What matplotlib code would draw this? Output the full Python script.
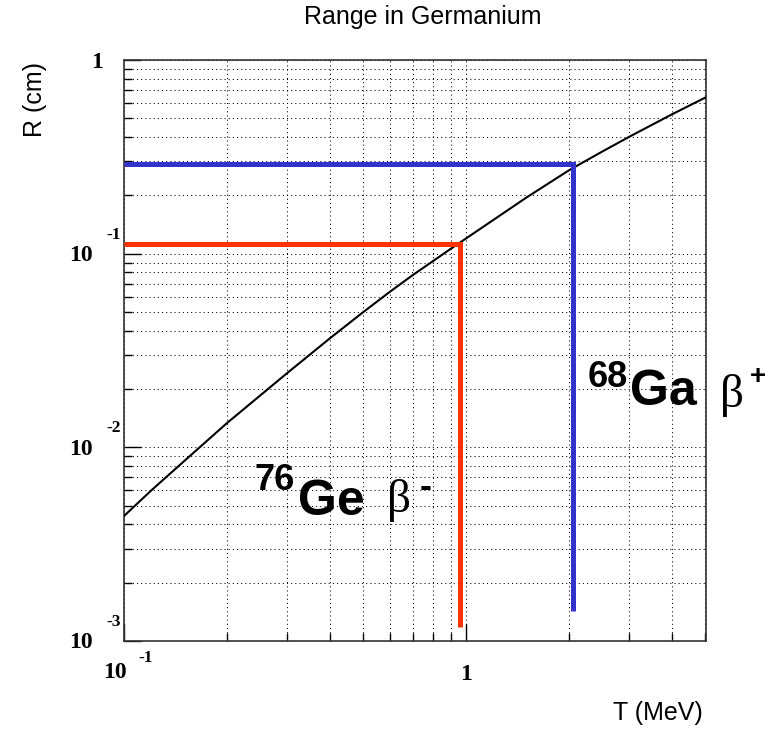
import matplotlib
matplotlib.use('Agg')
import matplotlib.pyplot as plt
import matplotlib.transforms as mtransforms
from matplotlib.ticker import LogLocator, NullFormatter, FixedLocator
import numpy as np

# Parcours des électrons dans le germanium
energie_mev = [0.1, 0.12, 0.15, 0.2, 0.3, 0.4, 0.5, 0.6, 0.7, 0.8, 0.9, 1.0,
               1.5, 2.0, 2.5, 3.0, 4.0, 5.0]
portee_cm = [0.00442, 0.00598, 0.0085, 0.01335, 0.0242, 0.0366, 0.0499, 0.0638, 0.0778,
             0.0916, 0.1058, 0.120, 0.195, 0.270, 0.337, 0.402, 0.525, 0.64]

# Repères des deux sources : énergie max, portée, bas du trait vertical
ge76 = (0.96, 0.112, 0.00118)
ga68 = (2.05, 0.29, 0.00143)

x_min, x_max = 0.1, 5.02
y_min, y_max = 1e-3, 1.0
x_ticks = [0.1, 1]
x_exposants = ['-1', None]
y_ticks = [1e-3, 1e-2, 1e-1, 1]
y_exposants = ['-3', '-2', '-1', None]

W, H = 776, 730
fig = plt.figure(figsize=(W / 100, H / 100), dpi=100)
ax = fig.add_axes([124 / W, 1 - 641 / H, (706 - 124) / W, (641 - 60) / H])

def px(x, y):
    # pixels (origine en haut à gauche) -> fraction de figure
    return x / W, 1 - y / H

ax.set_xscale('log')
ax.set_yscale('log')
ax.set_xlim(x_min, x_max)
ax.set_ylim(y_min, y_max)

ax.xaxis.set_major_locator(FixedLocator(x_ticks))
ax.yaxis.set_major_locator(FixedLocator(y_ticks))
ax.xaxis.set_minor_locator(LogLocator(base=10, subs=np.arange(2, 10)))
ax.yaxis.set_minor_locator(LogLocator(base=10, subs=np.arange(2, 10)))
ax.xaxis.set_major_formatter(NullFormatter())
ax.yaxis.set_major_formatter(NullFormatter())
ax.xaxis.set_minor_formatter(NullFormatter())
ax.yaxis.set_minor_formatter(NullFormatter())

ax.tick_params(which='both', direction='in', top=False, right=False, color='black', width=1)
ax.tick_params(which='major', length=12)
ax.tick_params(which='minor', length=6)

ax.grid(True, which='both', color='black', linestyle=(0, (1, 3)), linewidth=0.75)
ax.set_axisbelow(True)
for s in ax.spines.values():
    s.set_linewidth(1.2)
    s.set_color('#333333')

# courbe
ax.plot(energie_mev, portee_cm, color='black', lw=1.5, zorder=3)

# traits des sources
ax.plot([x_min, ge76[0], ge76[0]], [ge76[1], ge76[1], ge76[2]], color='#ff3300', lw=3.6,
        solid_joinstyle='miter', solid_capstyle='butt', zorder=4)
ax.plot([x_min, ga68[0], ga68[0]], [ga68[1], ga68[1], ga68[2]], color='#3333cc', lw=3.6,
        solid_joinstyle='miter', solid_capstyle='butt', zorder=4)

# étiquettes des graduations, style ROOT
serif_b = dict(family='Liberation Serif', weight='bold')
ytr = ax.get_yaxis_transform()
for val, exp in zip(y_ticks, y_exposants):
    if exp is None:
        t = mtransforms.offset_copy(ytr, fig=fig, x=-21, y=-3, units='dots')
        ax.text(0, val, '1', transform=t, ha='right', va='center', fontsize=17, **serif_b)
    else:
        t = mtransforms.offset_copy(ytr, fig=fig, x=-31, y=-2, units='dots')
        ax.text(0, val, '10', transform=t, ha='right', va='center', fontsize=17, **serif_b)
        t = mtransforms.offset_copy(ytr, fig=fig, x=-18, y=19, units='dots')
        ax.text(0, val, exp, transform=t, ha='left', va='center', fontsize=12.5, **serif_b)

xtr = ax.get_xaxis_transform()
for val, exp in zip(x_ticks, x_exposants):
    if exp is None:
        t = mtransforms.offset_copy(xtr, fig=fig, x=0, y=-34, units='dots')
        ax.text(val, 0, '1', transform=t, ha='center', va='center', fontsize=17, **serif_b)
    else:
        t = mtransforms.offset_copy(xtr, fig=fig, x=3, y=-32, units='dots')
        ax.text(val, 0, '10', transform=t, ha='right', va='center', fontsize=17, **serif_b)
        t = mtransforms.offset_copy(xtr, fig=fig, x=14, y=-17, units='dots')
        ax.text(val, 0, exp, transform=t, ha='left', va='center', fontsize=12.5, **serif_b)

# titres
sans = dict(family='Liberation Sans')
fig.text(*px(423, 17), 'Range in Germanium', ha='center', va='center', fontsize=18, **sans)
fig.text(*px(703, 713), 'T (MeV)', ha='right', va='center', fontsize=18, **sans)
fig.text(*px(35, 62), 'R (cm)', ha='center', va='top', rotation=90, fontsize=18, **sans)

# annotations des sources
gras = dict(family='Liberation Sans', weight='bold')
fig.text(*px(255, 490), '76', ha='left', va='baseline', fontsize=26, **gras)
fig.text(*px(298, 515), 'Ge', ha='left', va='baseline', fontsize=36, **gras)
fig.text(*px(387, 512), 'β', ha='left', va='baseline', fontsize=34, family='Liberation Serif')
fig.text(*px(420, 488), '-', ha='left', va='center', fontsize=26, **gras)

fig.text(*px(588, 387), '68', ha='left', va='baseline', fontsize=26, **gras)
fig.text(*px(630, 405), 'Ga', ha='left', va='baseline', fontsize=36, **gras)
fig.text(*px(720, 407), 'β', ha='left', va='baseline', fontsize=34, family='Liberation Serif')
fig.text(*px(750, 377), '+', ha='left', va='center', fontsize=20, **gras)

fig.savefig('out.png', dpi=100)
